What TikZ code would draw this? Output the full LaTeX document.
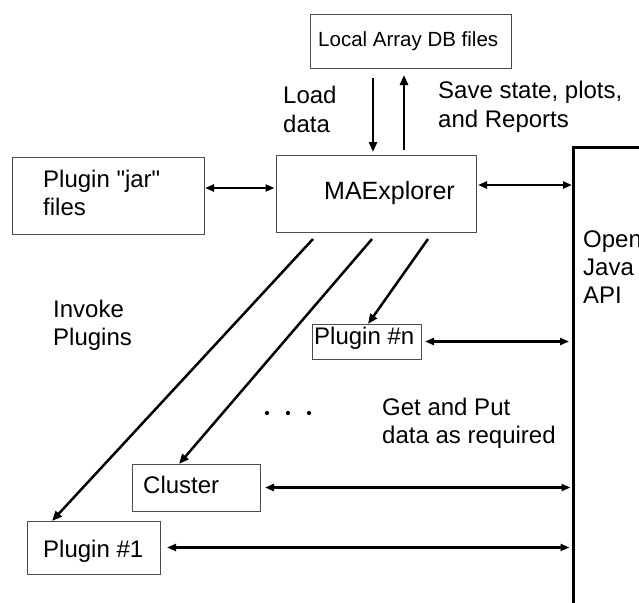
\documentclass[tikz,border=0pt]{standalone}
\usepackage{fontspec}
\setmainfont{Liberation Sans}[Ligatures=TeXOff]
\usetikzlibrary{arrows.meta,calc}
\begin{document}
\begin{tikzpicture}[x=1pt,y=-1pt,
  box/.style={draw=black!70, line width=0.9pt, inner sep=0pt, outer sep=0pt, anchor=north west},
  lbl/.style={font=\fontsize{24}{29}\selectfont, anchor=base west, inner sep=0pt},
  conn/.style={line width=2.5pt, -{Triangle[length=10pt,width=8pt]}},
  bconn/.style={line width=2.2pt, {Triangle[length=9pt,width=7pt]}-{Triangle[length=9pt,width=7pt]}}]
\clip (0,0) rectangle (639,602);
\useasboundingbox (0,0) rectangle (639,602);
% boxes
\node[box, minimum width=201pt, minimum height=54pt] (db) at (310,14) {};
\node[box, minimum width=200pt, minimum height=77pt] (mae) at (276,155) {};
\node[box, minimum width=192pt, minimum height=77pt] (jar) at (12,157) {};
\node[box, minimum width=109pt, minimum height=35pt] (pn) at (312,324) {};
\node[box, minimum width=128pt, minimum height=47pt] (cl) at (132,464) {};
\node[box, minimum width=133pt, minimum height=53pt] (p1) at (27,521) {};
\node[draw, line width=3pt, anchor=north west, minimum width=120pt, minimum height=520pt] (api) at (572,146) {};
% texts
\node[lbl, font=\fontsize{20.5}{24}\selectfont] (tdb) at (318,46) {Local Array DB files};
\node[lbl, font=\fontsize{25}{29}\selectfont] (tmae) at (324,199) {MAExplorer};
\node[lbl] (tjar1) at (43,187) {Plugin "jar"};
\node[lbl] (tjar2) at (43,215) {files};
\node[lbl] (tload1) at (283,103) {Load};
\node[lbl] (tload2) at (283,132) {data};
\node[lbl] (tsave1) at (438,98) {Save state, plots,};
\node[lbl] (tsave2) at (438,127) {and Reports};
\node[lbl] (tinv1) at (53,317) {Invoke};
\node[lbl] (tinv2) at (53,345) {Plugins};
\node[lbl] (topen1) at (583,247) {Open};
\node[lbl] (topen2) at (583,275) {Java};
\node[lbl] (topen3) at (583,303) {API};
\node[lbl] (tpn) at (314,344) {Plugin \#n};
\node[lbl] (tget1) at (382,415) {Get and Put};
\node[lbl] (tget2) at (382,443) {data as required};
\node[lbl] (tcl) at (143,493) {Cluster};
\node[lbl] (tp1) at (43,557) {Plugin \#1};
% dots
\foreach \i/\x in {1/267,2/288,3/309} \fill (\x,413) circle (2.1pt) coordinate (dot\i);
% vertical arrows
\coordinate (xl) at (373,0);
\coordinate (xs) at (404,0);
\draw[conn, shorten <=10pt, shorten >=3pt] (xl |- db.south) -- (xl |- mae.north);
\draw[conn, shorten <=5pt, shorten >=7pt] (xs |- mae.north) -- (xs |- db.south);
% horizontal arrows
\coordinate (yj) at (0,188);
\draw[bconn, shorten <=1pt, shorten >=1.5pt] (jar.east |- yj) -- (mae.west |- yj);
\coordinate (ym) at (0,185);
\draw[bconn, shorten <=2pt] (mae.east |- ym) -- (api.west |- ym);
\draw[bconn, shorten <=4pt, shorten >=3pt] (pn.east) -- (pn.east -| api.west);
\draw[bconn, shorten <=5pt, shorten >=1.5pt] (cl.east) -- (cl.east -| api.west);
\draw[bconn, shorten <=7pt, shorten >=2.5pt] (p1.east) -- (p1.east -| api.west);
% diagonal invoke arrows
\coordinate (s1) at (313,239);
\coordinate (s2) at (372,239);
\coordinate (s3) at (428,239);
\draw[conn] (s1) -- ($(p1.north west)+(25,0)$);
\draw[conn] (s2) -- ($(cl.north west)+(47,0)$);
\draw[conn] (s3) -- ($(pn.north west)+(56,0)$);
\end{tikzpicture}
\end{document}
